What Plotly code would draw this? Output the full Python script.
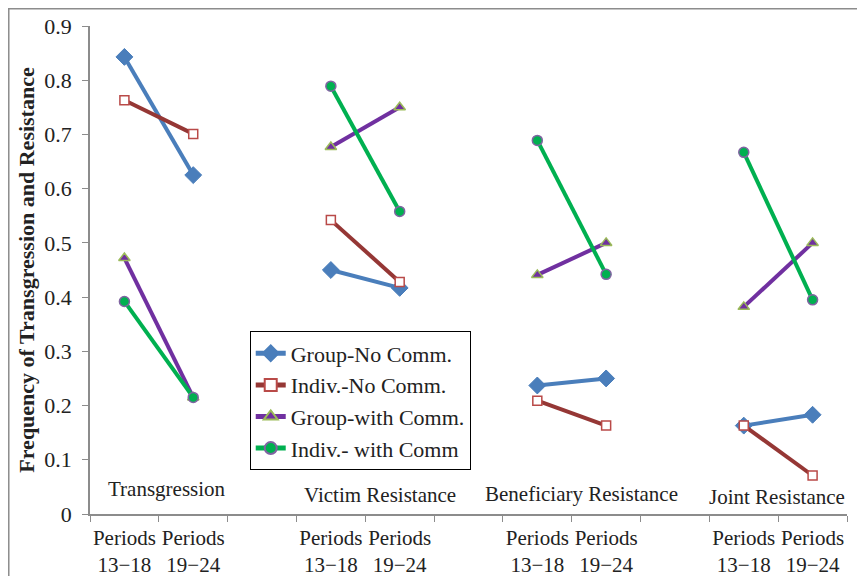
import plotly.graph_objects as go

# ---- data ----
groups = ["Transgression", "Victim Resistance", "Beneficiary Resistance", "Joint Resistance"]
period_labels = ["Periods<br>13\u221218", "Periods<br>19\u221224"]
series_names = ["Group-No Comm.", "Indiv.-No Comm.", "Group-with Comm.", "Indiv.- with Comm"]

group_no_comm = [0.843, 0.625, 0.450, 0.417, 0.237, 0.250, 0.163, 0.183]
indiv_no_comm = [0.763, 0.701, 0.542, 0.428, 0.209, 0.163, 0.163, 0.071]
group_with_comm = [0.472, 0.215, 0.677, 0.750, 0.441, 0.500, 0.382, 0.500]
indiv_with_comm = [0.392, 0.215, 0.789, 0.558, 0.689, 0.442, 0.667, 0.395]

y_ticks = [0, 0.1, 0.2, 0.3, 0.4, 0.5, 0.6, 0.7, 0.8, 0.9]

# category slots: 2 periods per group + one blank slot between groups
n_slots = len(groups) * 3 - 1
slot_x = []
for g in range(len(groups)):
    slot_x += [g * 3, g * 3 + 1]

def broken(vals):
    xs, ys = [], []
    for g in range(len(groups)):
        xs += [slot_x[2 * g], slot_x[2 * g + 1], None]
        ys += [vals[2 * g], vals[2 * g + 1], None]
    return xs, ys

styles = [
    dict(line=dict(color="#4A7EBB", width=4),
         marker=dict(symbol="diamond", size=13, color="#4A7EBB", line=dict(color="#4A7EBB", width=1))),
    dict(line=dict(color="#953735", width=4),
         marker=dict(symbol="square", size=9, color="white", line=dict(color="#B94A48", width=1.5))),
    dict(line=dict(color="#7030A0", width=4),
         marker=dict(symbol="triangle-up", size=10, color="#7030A0", line=dict(color="#9BBB59", width=1.5))),
    dict(line=dict(color="#00B050", width=4),
         marker=dict(symbol="circle", size=10, color="#00B050", line=dict(color="#8064A2", width=1.5))),
]

fig = go.Figure()
for name, vals, st in zip(series_names,
                          [group_no_comm, indiv_no_comm, group_with_comm, indiv_with_comm],
                          styles):
    xs, ys = broken(vals)
    fig.add_trace(go.Scatter(x=xs, y=ys, mode="lines+markers", name=name,
                             connectgaps=False, line=st["line"], marker=st["marker"]))

serif = "Liberation Serif, Times New Roman, serif"

# group labels inside plot (offset from group's first slot, and height in data units)
label_dx = [0.62, 0.72, 0.64, 0.49]
label_y = [0.046, 0.035, 0.037, 0.031]
for g, name in enumerate(groups):
    fig.add_annotation(x=slot_x[2 * g] + label_dx[g], y=label_y[g], text=name,
                       showarrow=False, xref="x", yref="y",
                       font=dict(family=serif, size=21, color="#222"))

# outer frame (left and top edges visible, as in the original)
fig.add_shape(type="rect", xref="paper", yref="paper",
              x0=-0.1073, x1=1.08, y0=-0.3, y1=1.0354,
              line=dict(color="#8c8c8c", width=1.5))

fig.update_layout(
    width=865, height=576,
    margin=dict(l=82, r=26, t=18, b=70),
    paper_bgcolor="white", plot_bgcolor="white",
    font=dict(family=serif, size=21, color="#222"),
    showlegend=True,
    legend=dict(x=0.211, y=0.374, xanchor="left", yanchor="top",
                bordercolor="black", borderwidth=1, bgcolor="white",
                font=dict(family=serif, size=22, color="#222"),
                tracegroupgap=0, itemsizing="constant"),
    xaxis=dict(range=[-0.5, n_slots - 0.5], tickmode="array",
               tickvals=slot_x, ticktext=period_labels * len(groups),
               ticks="", showgrid=False, zeroline=False, automargin=False,
               showline=True, linecolor="#8c8c8c", linewidth=1.5,
               ticklabelstandoff=4,
               tickfont=dict(family=serif, size=21, color="#222"),
               minor=dict(tickmode="linear", tick0=-0.5, dtick=1, ticks="outside",
                          ticklen=6, tickcolor="#8c8c8c", tickwidth=1, showgrid=False)),
    yaxis=dict(range=[0, 0.9], tickmode="array", tickvals=y_ticks,
               ticktext=[("0" if v == 0 else f"{v:.1f}") for v in y_ticks],
               ticks="outside", ticklen=6, tickcolor="#8c8c8c",
               showgrid=False, zeroline=False, showline=True, automargin=False,
               linecolor="#8c8c8c", linewidth=1.5,
               ticklabelstandoff=6,
               tickfont=dict(family=serif, size=22, color="#222"),
               title=dict(text="<b>Frequency of Transgression and Resistance</b>",
                          font=dict(family=serif, size=22, color="#222"), standoff=4)),
)

fig.write_html("out.html")
